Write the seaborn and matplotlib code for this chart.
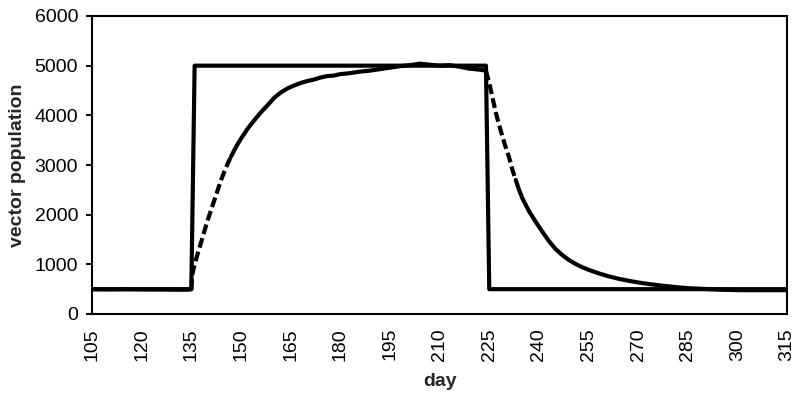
import matplotlib
matplotlib.use("Agg")
import matplotlib.pyplot as plt
import seaborn as sns

# Step (imposed carrying capacity) series
step_days = [105, 135, 136, 224, 225, 315]
step_vals = [500, 500, 5000, 5000, 500, 500]

# Simulated vector population
pre_days = [105, 110, 115, 120, 125, 130, 134, 135]
pre_vals = [500, 495, 500, 495, 495, 490, 490, 500]

rise_dash_days = [135, 135.3, 136, 137, 138, 139, 140, 141, 142, 143, 144, 145, 146, 147]
rise_dash_vals = [500, 800, 1000, 1230, 1450, 1680, 1900, 2100, 2300, 2500, 2700, 2870, 3030, 3170]

plateau_days = [147, 148, 149, 150, 152, 154, 156, 158, 160, 162, 164, 166, 168, 170,
                172, 174, 176, 178, 180, 183, 186, 189, 192, 195, 198, 201, 204, 207,
                210, 213, 216, 219, 222, 224]
plateau_vals = [3170, 3300, 3420, 3530, 3730, 3900, 4060, 4200, 4350, 4460, 4540, 4600, 4650, 4690,
                4720, 4760, 4790, 4800, 4830, 4850, 4880, 4900, 4930, 4960, 4990, 5010, 5040, 5020,
                5000, 5010, 4980, 4940, 4920, 4900]

fall_dash_days = [224, 225, 226, 227, 228, 229, 230, 231, 232, 233]
fall_dash_vals = [4900, 4650, 4350, 4050, 3800, 3570, 3350, 3150, 2900, 2700]

tail_days = [233, 234, 235, 237, 239, 241, 243, 245, 247, 249, 251, 253, 255, 258, 261,
             264, 267, 270, 273, 276, 280, 285, 290, 295, 300, 305, 310, 315]
tail_vals = [2700, 2500, 2330, 2070, 1860, 1660, 1470, 1310, 1190, 1090, 1010, 945, 890, 820, 760,
             710, 670, 635, 605, 580, 550, 520, 505, 490, 480, 480, 480, 480]

x_ticks = list(range(105, 316, 15))
y_ticks = list(range(0, 6001, 1000))

sns.set_theme(style="white")
plt.rcParams['font.family'] = ['Liberation Sans', 'DejaVu Sans']

fig = plt.figure(figsize=(8, 4), dpi=100)
ax = fig.add_axes([0.115, 0.215, 0.869, 0.745])

lw = 3.0
dash = (0, (2.4, 1.0))
sns.lineplot(x=step_days, y=step_vals, ax=ax, color='black', lw=lw, sort=False, estimator=None)
for d, v, ls in [(pre_days, pre_vals, '-'), (rise_dash_days, rise_dash_vals, dash),
                 (plateau_days, plateau_vals, '-'), (fall_dash_days, fall_dash_vals, dash),
                 (tail_days, tail_vals, '-')]:
    sns.lineplot(x=d, y=v, ax=ax, color='black', lw=lw, sort=False, estimator=None, linestyle=ls)

ax.set_xlim(105, 315)
ax.set_ylim(0, 6000)
ax.set_xticks(x_ticks)
ax.set_xticklabels([str(t) for t in x_ticks], rotation=90, fontsize=14)
ax.set_yticks(y_ticks)
ax.set_yticklabels([str(t) for t in y_ticks], fontsize=14)
ax.tick_params(axis='x', length=0, pad=10, colors='black')
ax.tick_params(axis='y', length=4, width=1.4, pad=6, colors='black', left=True)
for s in ax.spines.values():
    s.set_color('black')
    s.set_linewidth(1.5)
ax.set_xlabel('day', fontsize=14, fontweight='bold', labelpad=9)
ax.set_ylabel('vector population', fontsize=14, fontweight='bold', labelpad=6)
ax.grid(False)

fig.savefig('out.png', dpi=100)
